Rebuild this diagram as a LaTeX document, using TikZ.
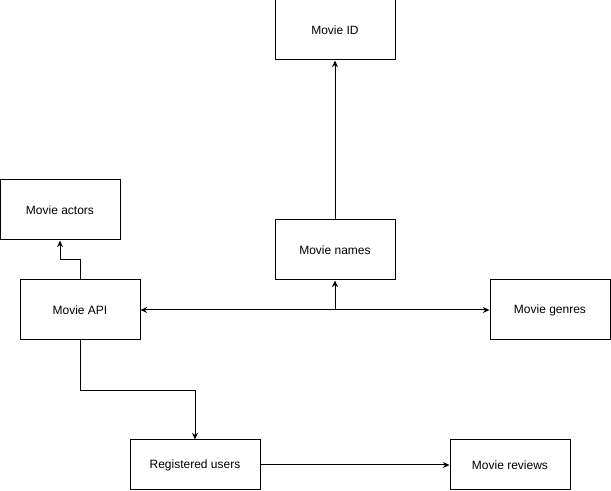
\documentclass[tikz,border=0pt]{standalone}
\usepackage{fontspec}
\setmainfont{Liberation Sans}
\usepackage{tikz}
\usetikzlibrary{arrows.meta}
\tikzset{
box/.style = {rectangle, draw=black, line width=0.75pt, inner sep=0pt, minimum width = #1, font=\fontsize{9}{11}\selectfont},
box/.default = 90pt, % 120px wide box
}

\begin{document}
\begin{tikzpicture}[x=0.75pt, y=-0.75pt, >={Stealth[length=5pt,width=4.5pt]}, line width=0.75pt]
    \useasboundingbox (0,0) rectangle (611,491);
    \node[box, minimum height=45pt] (movieid) at (335,30) {Movie ID};
    \node[box, minimum height=45pt] (actors) at (60,210) {Movie actors};
    \node[box, minimum height=45pt] (names) at (335,250) {Movie names};
    \node[box, minimum height=45pt] (api) at (80,310) {Movie API};
    \node[box, minimum height=45pt] (genres) at (550,310) {Movie genres};
    \node[box=97.5pt, minimum height=37.5pt] (users) at (195,465) {Registered users};
    \node[box, minimum height=37.5pt] (reviews) at (510,465) {Movie reviews};

    \draw[->]  (api.north) -- ++(0,-20) -| (actors.south);
    \draw[<->] (api.east) -- (genres.west);
    \draw[->]  (names.south |- api.east) -- (names.south);
    \draw[->]  (names.north) -- (movieid.south);
    \draw[->]  (api.south) -- ++(0,50) -| (users.north);
    \draw[->]  (users.east) -- (reviews.west);

\end{tikzpicture}
\end{document}
